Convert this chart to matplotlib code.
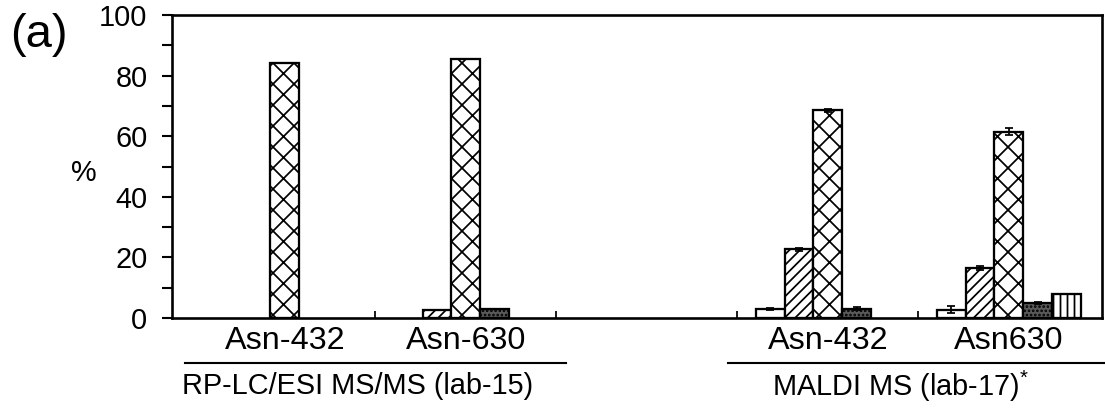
import numpy as np
import matplotlib
matplotlib.use("Agg")
import matplotlib.pyplot as plt
import matplotlib.transforms as mtransforms

# sites along the x axis (the middle slot is an empty spacer)
categories = ["Asn-432", "Asn-630", "", "Asn-432", "Asn630"]
methods = ["RP-LC/ESI MS/MS (lab-15)", "MALDI MS (lab-17)$^{*}$"]
method_slots = [[0, 1], [3, 4]]

# percentages per glycoform series, one value per slot
series_open = [0, 0, 0, 3.0, 2.8]
series_diag = [0, 2.8, 0, 22.7, 16.5]
series_cross = [84.2, 85.5, 0, 68.5, 61.5]
series_dark = [0, 3.0, 0, 3.1, 5.0]
series_vert = [0, 0, 0, 0, 8.0]

err_open = [0, 0, 0, 0.3, 1.0]
err_diag = [0, 0, 0, 0.5, 0.5]
err_cross = [0, 0, 0, 0.6, 1.2]
err_dark = [0, 0, 0, 0.5, 0.3]
err_vert = [0, 0, 0, 0, 0]

yticks = [0, 20, 40, 60, 80, 100]

plt.rcParams["font.family"] = ["Liberation Sans", "DejaVu Sans"]
plt.rcParams["hatch.linewidth"] = 1.0
plt.rcParams["mathtext.fontset"] = "custom"
plt.rcParams["mathtext.rm"] = "Liberation Sans"

dpi = 126
fig = plt.figure(figsize=(1105 / dpi, 414 / dpi), dpi=dpi)
ax = fig.add_axes([172 / 1105, 1 - 318 / 414, 930 / 1105, 303 / 414])

styles = [
    dict(facecolor="white", hatch=None),
    dict(facecolor="white", hatch="////"),
    dict(facecolor="white", hatch="xx"),
    dict(facecolor="#5a5a5a", hatch="....."),
    dict(facecolor="white", hatch="|||"),
]
values = [series_open, series_diag, series_cross, series_dark, series_vert]
errors = [err_open, err_diag, err_cross, err_dark, err_vert]

x = np.arange(len(categories))
width = 0.16
for j, (vals, errs, st) in enumerate(zip(values, errors, styles)):
    pos = x + (j - 2) * width
    vals = np.array(vals, dtype=float)
    errs = np.array(errs, dtype=float)
    keep = vals > 0
    ax.bar(pos[keep], vals[keep], width, edgecolor="black", linewidth=1.3,
           facecolor=st["facecolor"], hatch=st["hatch"], zorder=2)
    has_err = errs > 0
    ax.errorbar(pos[has_err], vals[has_err], yerr=errs[has_err], fmt="none",
                ecolor="black", elinewidth=1.0, capsize=2.5, capthick=1.0, zorder=3)

ax.set_xlim(-0.624, 4.514)
ax.set_ylim(0, 100)
ax.set_yticks(yticks)
ax.set_yticklabels([str(t) for t in yticks], fontsize=16.5)
ax.set_yticks(np.arange(10, 100, 20), minor=True)
ax.tick_params(axis="y", which="both", direction="out", length=6, width=1.2, pad=8)
ax.set_xticks(x[:-1] + 0.5)
ax.set_xticklabels([])
ax.tick_params(axis="x", direction="in", length=4, width=1.0)
for sp in ax.spines.values():
    sp.set_linewidth(1.5)

ax.set_ylabel("%", fontsize=16.5, rotation=0, va="center")
ax.yaxis.set_label_coords(-0.095, 0.48)

trans = mtransforms.blended_transform_factory(ax.transData, ax.transAxes)
for i, lab in enumerate(categories):
    if lab:
        ax.text(i, -0.075, lab, transform=trans, ha="center", va="center", fontsize=18.5)

for name, slots in zip(methods, method_slots):
    lo, hi = slots[0] - 0.55, slots[-1] + 0.55
    ax.plot([lo, hi], [-0.148, -0.148], transform=trans, color="black",
            linewidth=1.2, clip_on=False)
    ax.text((lo + hi) / 2 - 0.1, -0.225, name, transform=trans,
            ha="center", va="center", fontsize=16.5)

fig.text(39 / 1105, 1 - 35 / 414, "(a)", fontsize=27, ha="center", va="center")

fig.savefig("out.png", dpi=dpi)
